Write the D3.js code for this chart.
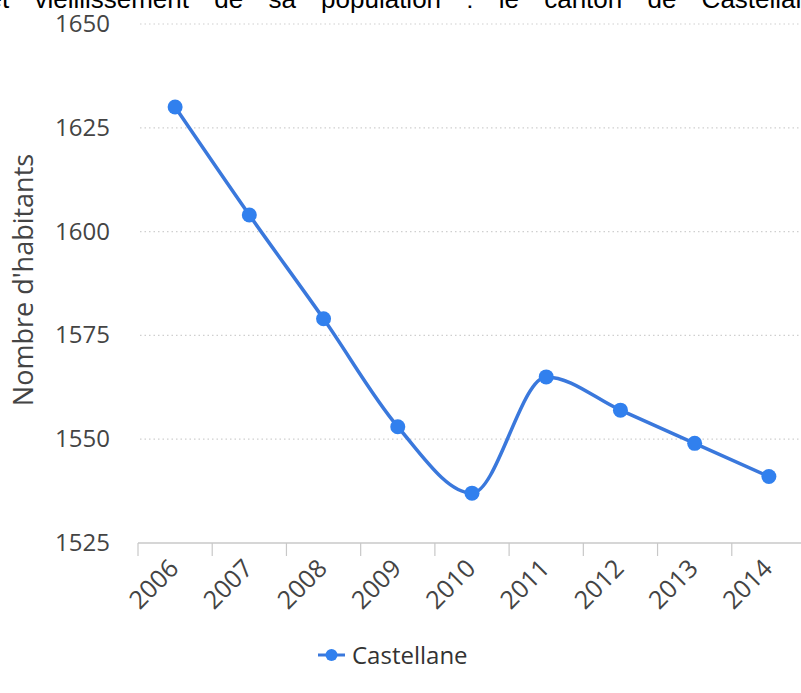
<!DOCTYPE html>
<html>
<head>
<meta charset="utf-8">
<script src="https://cdn.jsdelivr.net/npm/d3@7"></script>
<style>
  html, body { margin: 0; padding: 0; background: #fff; }
  svg { display: block; }
</style>
</head>
<body>
<div id="chart"></div>
<script>
const years = ['2006', '2007', '2008', '2009', '2010', '2011', '2012', '2013', '2014'];
const population = [1630, 1604, 1579, 1553, 1537, 1565, 1557, 1549, 1541];
const yTicks = [1525, 1550, 1575, 1600, 1625, 1650];
const seriesName = 'Castellane';
const yTitle = "Nombre d'habitants";
const title = 'et vieillissement de sa population : le canton de Castellane';

const width = 801;
const height = 693;
const font = "'Open Sans', sans-serif";

const svg = d3
  .select('#chart')
  .append('svg')
  .attr('width', width)
  .attr('height', height);

const x = d3.scaleBand().domain(years).range([138, 806]);
const y = d3.scaleLinear().domain([1525, 1650]).range([543, 24]);
const cx = d => x(d) + x.bandwidth() / 2;

// title, cut off at the top of the frame
svg
  .append('text')
  .attr('x', -12.5)
  .attr('y', 8)
  .style('font-family', 'Liberation Sans, Arial, sans-serif')
  .style('font-size', '26px')
  .style('word-spacing', '18px')
  .attr('fill', '#000')
  .text(title);

// dotted grid
svg
  .append('g')
  .selectAll('line')
  .data(yTicks.slice(1))
  .join('line')
  .attr('x1', 140)
  .attr('x2', width)
  .attr('y1', d => y(d))
  .attr('y2', d => y(d))
  .attr('stroke', '#cfcfcf')
  .attr('stroke-width', 1.2)
  .attr('stroke-dasharray', '1.5,3');

// x axis line + ticks
svg
  .append('line')
  .attr('x1', 138)
  .attr('x2', width)
  .attr('y1', y(1525))
  .attr('y2', y(1525))
  .attr('stroke', '#c8c8c8')
  .attr('stroke-width', 1.5);

svg
  .append('g')
  .selectAll('line')
  .data(years)
  .join('line')
  .attr('x1', d => x(d))
  .attr('x2', d => x(d))
  .attr('y1', y(1525))
  .attr('y2', y(1525) + 13)
  .attr('stroke', '#c8c8c8')
  .attr('stroke-width', 1.2);

// y labels
svg
  .append('g')
  .selectAll('text')
  .data(yTicks)
  .join('text')
  .attr('x', 110)
  .attr('y', d => y(d) + 8)
  .attr('text-anchor', 'end')
  .style('font-family', font)
  .style('font-size', '24px')
  .attr('fill', '#444')
  .text(d => d);

// x labels, rotated
svg
  .append('g')
  .selectAll('text')
  .data(years)
  .join('text')
  .attr('text-anchor', 'end')
  .attr('transform', d => `translate(${cx(d) + 5}, ${y(1525) + 27}) rotate(-45)`)
  .style('font-family', font)
  .style('font-size', '25px')
  .attr('fill', '#444')
  .text(d => d);

// y title
svg
  .append('text')
  .attr('transform', 'translate(33, 280) rotate(-90)')
  .attr('text-anchor', 'middle')
  .style('font-family', font)
  .style('font-size', '27px')
  .attr('fill', '#444')
  .text(yTitle);

// series
const line = d3
  .line()
  .x((d, i) => cx(years[i]))
  .y(d => y(d))
  .curve(d3.curveMonotoneX);

svg
  .append('path')
  .attr('d', line(population))
  .attr('fill', 'none')
  .attr('stroke', '#3a78dc')
  .attr('stroke-width', 3.5);

svg
  .append('g')
  .selectAll('circle')
  .data(population)
  .join('circle')
  .attr('cx', (d, i) => cx(years[i]))
  .attr('cy', d => y(d))
  .attr('r', 7.5)
  .attr('fill', '#3180ee');

// legend
const legend = svg.append('g').attr('transform', 'translate(318, 655)');
legend
  .append('line')
  .attr('x1', 0)
  .attr('x2', 27)
  .attr('stroke', '#3a78dc')
  .attr('stroke-width', 3);
legend.append('circle').attr('cx', 13.5).attr('r', 6).attr('fill', '#3180ee');
legend
  .append('text')
  .attr('x', 34)
  .attr('y', 9)
  .style('font-family', font)
  .style('font-size', '24px')
  .attr('fill', '#333')
  .text(seriesName);
</script>
</body>
</html>
